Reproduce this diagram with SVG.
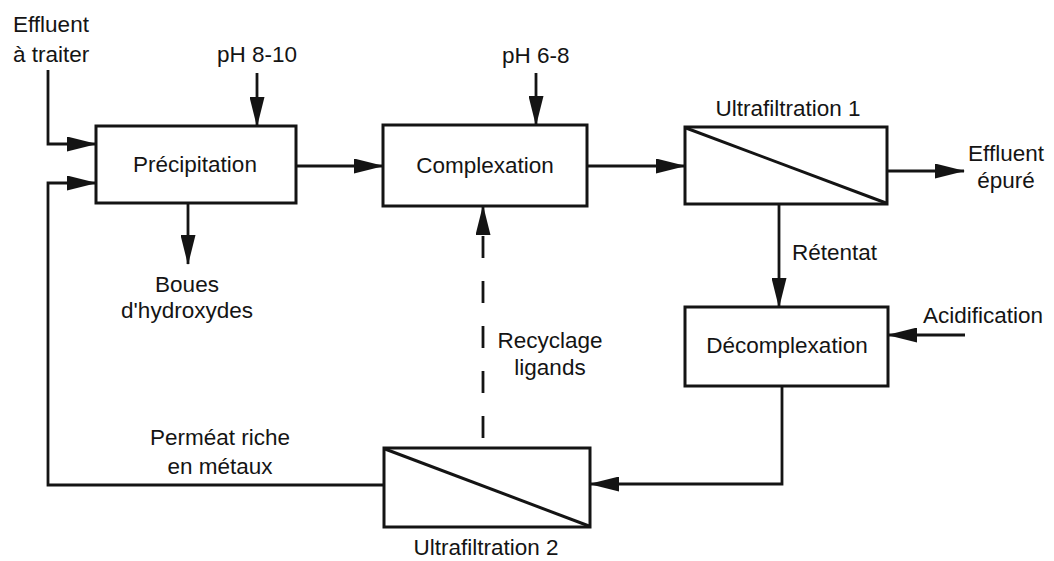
<svg xmlns="http://www.w3.org/2000/svg" width="1054" height="561" viewBox="0 0 1054 561">
<defs>
<style>
text{font-family:"Liberation Sans",Arial,Helvetica,sans-serif;font-size:22.5px;fill:#141414}
.box{fill:#fff;stroke:#141414;stroke-width:3}
.diag{stroke:#141414;stroke-width:3;fill:none}
.c{stroke:#141414;stroke-width:2.8;fill:none;marker-end:url(#ah)}
.mid{text-anchor:middle}
</style>
<marker id="ah" viewBox="0 0 30 15" markerWidth="30" markerHeight="15" refX="29" refY="7.5" orient="auto" markerUnits="userSpaceOnUse">
<path d="M0,0 L30,7.5 L0,15 z" fill="#141414"/>
</marker>
</defs>
<rect width="1054" height="561" fill="#fff"/>
<g id="connectors">
<path class="c" d="M48,70 V144 H96"/>
<path class="c" d="M384,485 H48 V183 H96"/>
<path class="c" d="M257,73 V126"/>
<path class="c" d="M188,203 V264"/>
<path class="c" d="M296,166 H383"/>
<path class="c" d="M536,73 V125"/>
<path class="c" d="M587,166 H685"/>
<path class="c" d="M887,171 H964"/>
<path class="c" d="M779,204 V307"/>
<path class="c" d="M965,335 H888"/>
<path class="c" d="M782,386 V484 H590"/>
<path class="c" d="M483,438 V206" stroke-dasharray="22 23"/>
</g>
<g id="precipitation">
<rect class="box" x="96" y="126" width="200" height="77"/>
<text class="mid" x="195" y="172">Précipitation</text>
</g>
<g id="complexation">
<rect class="box" x="383" y="125" width="204" height="81"/>
<text class="mid" x="485" y="173">Complexation</text>
</g>
<g id="uf1">
<rect class="box" x="685" y="127" width="202" height="77"/>
<path class="diag" d="M686,128 L886,203"/>
<text class="mid" x="788" y="116">Ultrafiltration 1</text>
</g>
<g id="decomplexation">
<rect class="box" x="685" y="307" width="203" height="79"/>
<text class="mid" x="787" y="353">Décomplexation</text>
</g>
<g id="uf2">
<rect class="box" x="384" y="448" width="206" height="79"/>
<path class="diag" d="M385,449 L589,526"/>
<text class="mid" x="486" y="555">Ultrafiltration 2</text>
</g>
<g id="labels">
<text x="13" y="32">Effluent</text>
<text x="13" y="62">à traiter</text>
<text x="217" y="62">pH 8-10</text>
<text x="502" y="63">pH 6-8</text>
<text class="mid" x="187" y="292">Boues</text>
<text class="mid" x="187" y="318">d'hydroxydes</text>
<text class="mid" x="1006" y="161">Effluent</text>
<text class="mid" x="1006" y="188">épuré</text>
<text x="792" y="260">Rétentat</text>
<text x="923" y="323">Acidification</text>
<text class="mid" x="550" y="348">Recyclage</text>
<text class="mid" x="550" y="375">ligands</text>
<text class="mid" x="220" y="445">Perméat riche</text>
<text class="mid" x="220" y="474">en métaux</text>
</g>
</svg>
